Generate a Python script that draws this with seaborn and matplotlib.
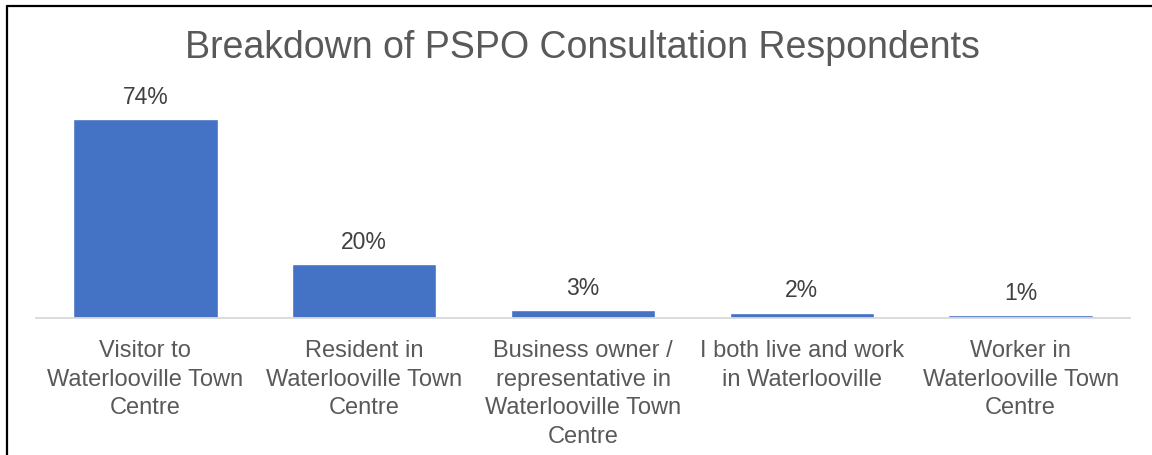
import matplotlib
matplotlib.use("Agg")
import matplotlib.pyplot as plt
import seaborn as sns
import pandas as pd
from matplotlib.lines import Line2D

categories = [
    "Visitor to\nWaterlooville Town\nCentre",
    "Resident in\nWaterlooville Town\nCentre",
    "Business owner /\nrepresentative in\nWaterlooville Town\nCentre",
    "I both live and work\nin Waterlooville",
    "Worker in\nWaterlooville Town\nCentre",
]
values = [74, 20, 3, 2, 1]
value_labels = ["74%", "20%", "3%", "2%", "1%"]

df = pd.DataFrame({"category": categories, "pct": values})

sns.set_style("white")
plt.rcParams["font.family"] = ["Liberation Sans", "DejaVu Sans"]

fig = plt.figure(figsize=(11.52, 4.56), dpi=100)
ax = fig.add_axes([0.03125, 0.3004, 0.9497, 0.4716])

sns.barplot(data=df, x="category", y="pct", color="#4472C4", saturation=1,
            width=0.66, ax=ax)
ax.set_ylim(0, 80)
ax.set_xlim(-0.5, 4.5)

for i, (v, lab) in enumerate(zip(values, value_labels)):
    ax.annotate(lab, (i, v), xytext=(0, 16.5), textcoords="offset points",
                ha="center", va="center", fontsize=16.5, color="#404040")

ax.set_xlabel("")
ax.set_ylabel("")
ax.set_yticks([])
ax.tick_params(axis="x", length=0, pad=15)
for t in ax.get_xticklabels():
    t.set_fontsize(17)
    t.set_color("#595959")
    t.set_linespacing(1.4)
    t.set_verticalalignment("top")

for s in ["top", "right", "left"]:
    ax.spines[s].set_visible(False)
ax.spines["bottom"].set_color("#D9D9D9")
ax.spines["bottom"].set_linewidth(1.3)

fig.text(0.506, 0.895, "Breakdown of PSPO Consultation Respondents",
         ha="center", va="center", fontsize=27, color="#595959")

# chart border (left and top edges visible)
fig.add_artist(Line2D([0.0065, 0.0065], [0, 0.985], color="black", lw=1.6,
                      transform=fig.transFigure))
fig.add_artist(Line2D([0.0065, 1.0], [0.985, 0.985], color="black", lw=1.6,
                      transform=fig.transFigure))

fig.savefig("out.png", dpi=100)
